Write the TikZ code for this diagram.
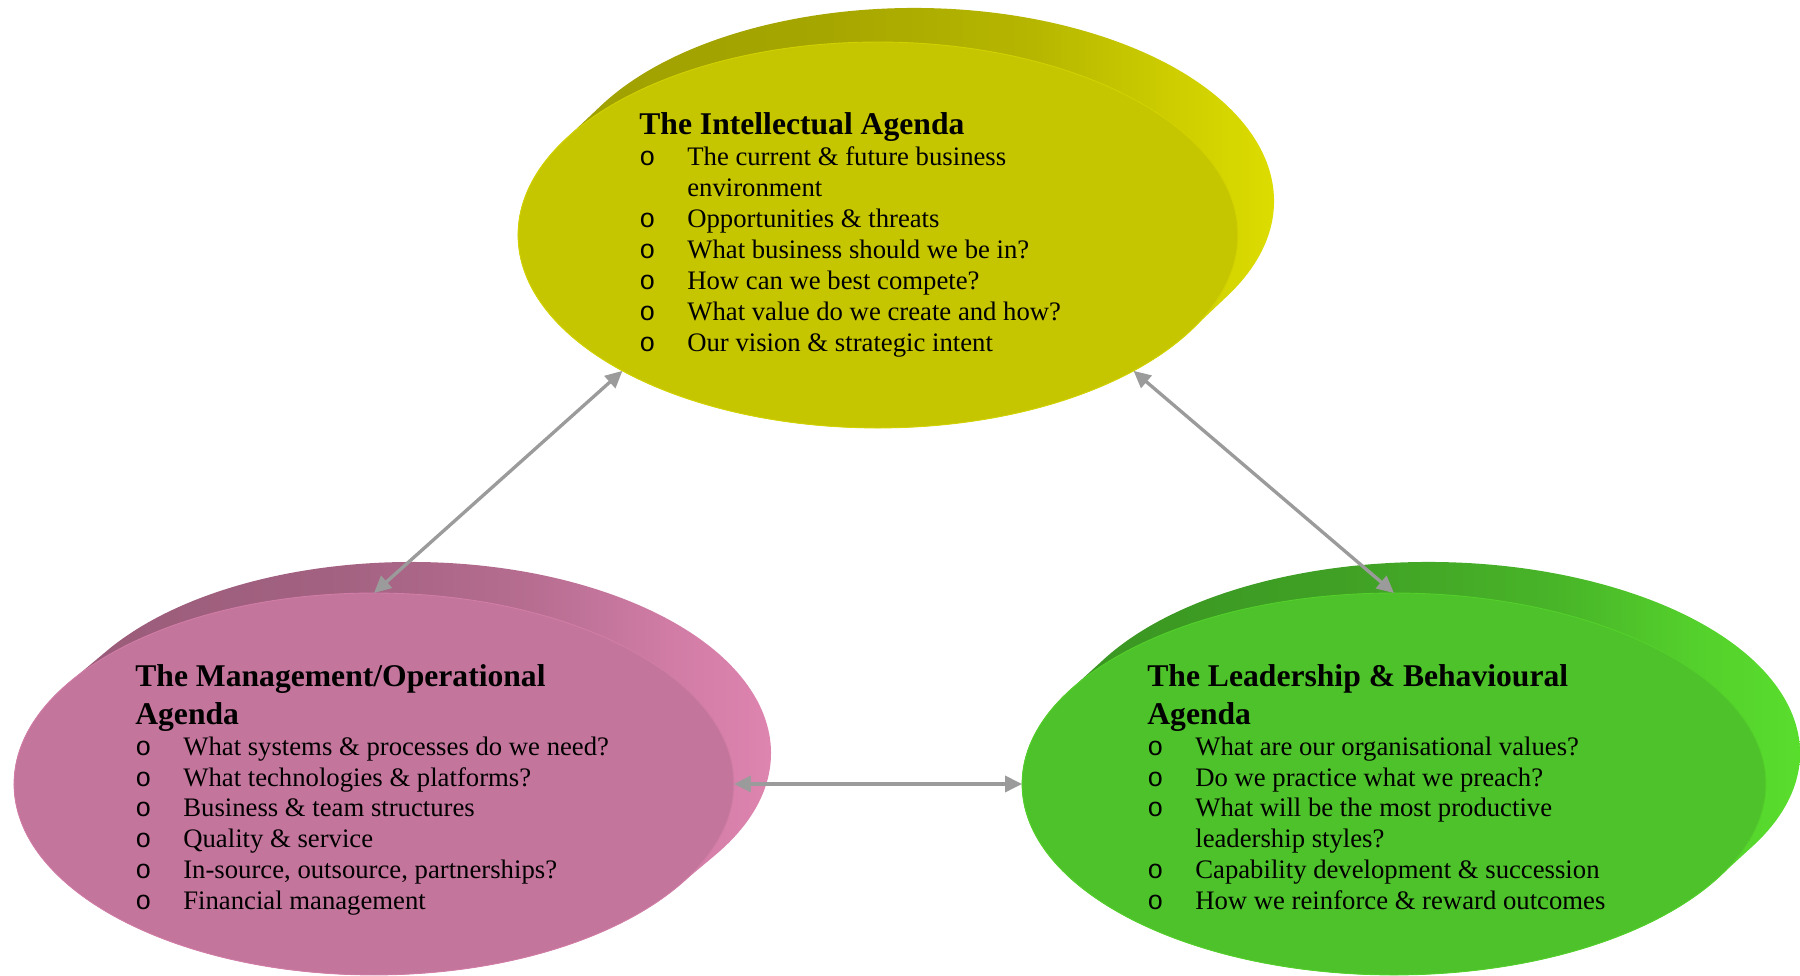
\documentclass[tikz,border=0pt]{standalone}
\usepackage{fontspec}
\setmainfont{Liberation Serif}
\newfontfamily\bulletfont{Liberation Mono}
\usetikzlibrary{shapes.geometric,arrows.meta,calc}

\definecolor{intelFront}{RGB}{198,198,0}
\definecolor{intelA}{RGB}{158,158,0}
\definecolor{intelB}{RGB}{166,166,0}
\definecolor{intelC}{RGB}{182,182,0}
\definecolor{intelD}{RGB}{205,205,0}
\definecolor{intelE}{RGB}{228,228,0}
\definecolor{mgmtFront}{RGB}{196,117,156}
\definecolor{mgmtA}{RGB}{152,90,120}
\definecolor{mgmtB}{RGB}{162,97,128}
\definecolor{mgmtC}{RGB}{182,109,144}
\definecolor{mgmtD}{RGB}{208,124,165}
\definecolor{mgmtE}{RGB}{228,136,180}
\definecolor{leadFront}{RGB}{78,194,42}
\definecolor{leadA}{RGB}{56,148,33}
\definecolor{leadB}{RGB}{64,160,37}
\definecolor{leadC}{RGB}{72,180,40}
\definecolor{leadD}{RGB}{84,208,44}
\definecolor{leadE}{RGB}{92,228,46}
\definecolor{linkgray}{RGB}{155,155,155}

% side shading of each ellipse, dark on the left, bright at the far right
\newcommand{\wallshading}[1]{%
    \pgfdeclarehorizontalshading{#1wall}{100bp}{color(0bp)=(#1A); color(27bp)=(#1A);
        color(46bp)=(#1B); color(58bp)=(#1C); color(66bp)=(#1D); color(75bp)=(#1E); color(100bp)=(#1E)}}
\wallshading{intel}
\wallshading{mgmt}
\wallshading{lead}

\tikzset{
    agenda/.style={ellipse, minimum width=14.4cm, minimum height=7.7cm, inner sep=0pt, outer sep=0pt, line width=0.5pt},
    link/.style={draw=linkgray, line width=1.9pt,
        {Triangle[length=0.34cm,width=0.32cm]}-{Triangle[length=0.34cm,width=0.32cm]}},
    agendatext/.style={anchor=base west, inner sep=0pt, font=\fontsize{15.2}{17.6}\selectfont}
}

\newcommand{\agendatitle}[1]{\multicolumn{2}{@{}l@{}}{\fontsize{18}{21}\selectfont\bfseries #1}}
\newcommand{\bul}{{\bulletfont o}}
% extruded side of an ellipse: centre x, centre y, rx, ry, dx, dy, colour prefix
\newcommand{\agendawall}[7]{%
    \pgfmathsetmacro{\wa}{atan(-(#4*#5)/(#3*#6))}
    \pgfmathsetmacro{\wb}{\wa+180}
    \shade[shading=#7wall]
        ($(#1,#2)+(#5,#6)+(\wa:#3 and #4)$) arc[start angle=\wa, delta angle=180, x radius=#3, y radius=#4]
        -- ($(#1,#2)+(\wb:#3 and #4)$) arc[start angle=\wb, delta angle=180, x radius=#3, y radius=#4] -- cycle;
}

\begin{document}
\begin{tikzpicture}[x=0.02cm, y=0.02cm]
    \useasboundingbox (0,0) rectangle (1800,976);

    \agendawall{878}{741}{360}{193}{36}{34}{intel}
    \agendawall{374}{192}{360}{191}{37}{31}{mgmt}
    \agendawall{1394}{192}{372}{191}{34}{31}{lead}

    \node[agenda, minimum height=7.72cm, fill=intelFront, draw=intelFront!60!intelE] (intel) at (878,741) {};
    \node[agenda, minimum height=7.64cm, fill=mgmtFront, draw=mgmtFront!60!mgmtE] (mgmt) at (374,192) {};
    \node[agenda, minimum width=14.88cm, minimum height=7.64cm, fill=leadFront, draw=leadFront!60!leadE] (lead) at (1394,192) {};

    \draw[link] (intel.208) -- (mgmt.north);
    \draw[link] (intel.332) -- (lead.north);
    \draw[link] (mgmt.east) -- (lead.west);

    \node[agendatext] (intelText) at (639,841) {%
        \begin{tabular}[t]{@{}p{0.96cm}@{}l@{}}
            \agendatitle{The Intellectual Agenda}\\
            \bul & The current \& future business\\
                 & environment\\
            \bul & Opportunities \& threats\\
            \bul & What business should we be in?\\
            \bul & How can we best compete?\\
            \bul & What value do we create and how?\\
            \bul & Our vision \& strategic intent
        \end{tabular}};

    \node[agendatext] (mgmtText) at (135,289) {%
        \begin{tabular}[t]{@{}p{0.96cm}@{}l@{}}
            \agendatitle{The Management/Operational}\\[3.4pt]
            \agendatitle{Agenda}\\
            \bul & What systems \& processes do we need?\\
            \bul & What technologies \& platforms?\\
            \bul & Business \& team structures\\
            \bul & Quality \& service\\
            \bul & In-source, outsource, partnerships?\\
            \bul & Financial management
        \end{tabular}};

    \node[agendatext] (leadText) at (1147,289) {%
        \begin{tabular}[t]{@{}p{0.96cm}@{}l@{}}
            \agendatitle{The Leadership \& Behavioural}\\[3.4pt]
            \agendatitle{Agenda}\\
            \bul & What are our organisational values?\\
            \bul & Do we practice what we preach?\\
            \bul & What will be the most productive\\
                 & leadership styles?\\
            \bul & Capability development \& succession\\
            \bul & How we reinforce \& reward outcomes
        \end{tabular}};
\end{tikzpicture}
\end{document}
